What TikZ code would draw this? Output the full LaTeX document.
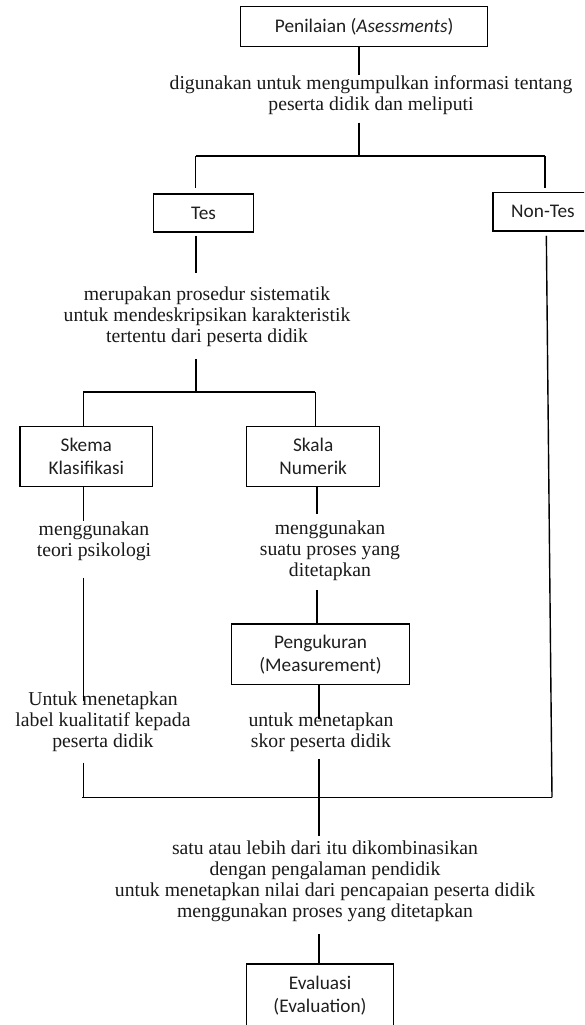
\documentclass[tikz,border=0pt]{standalone}
\usepackage{fontspec}
\setmainfont{Carlito}
\newfontfamily\serifx{Liberation Serif}
\usetikzlibrary{calc}
\begin{document}
\begin{tikzpicture}[x=1pt,y=-1pt,line width=1.4pt,
  boxn/.style={draw, inner sep=0pt, align=center, text=black!88,
    font=\fontsize{19.3}{23}\selectfont},
  lbl/.style={inner sep=0pt, align=center, text=black!90,
    font=\serifx\fontsize{19.7}{21}\selectfont}]
\useasboundingbox (0,0) rectangle (584,1025);
\clip (0,0) rectangle (584,1025);

% boxes
\node[boxn, minimum width=247pt, minimum height=40pt] (pen) at (364.2,26.7) {Penilaian (\textit{Asessments})};
\node[boxn, minimum width=99.6pt, minimum height=38pt] (tes) at (203.5,213) {Tes};
\node[boxn, minimum width=100pt, minimum height=38.7pt] (nontes) at (543,211.7) {Non-Tes};
\node[boxn, minimum width=132.7pt, minimum height=60pt] (skema) at (86.3,456.7) {Skema\\Klasifikasi};
\node[boxn, minimum width=133pt, minimum height=60pt] (skala) at (313.2,456.7) {Skala\\Numerik};
\node[boxn, minimum width=177.6pt, minimum height=60.3pt] (peng) at (320.5,654.2) {Pengukuran\\(Measurement)};
\node[boxn, minimum width=146.6pt, minimum height=64pt] (eval) at (320,996) {Evaluasi\\(Evaluation)};

% texts
\node[lbl] (t1) at (371,95) {digunakan untuk mengumpulkan informasi tentang\\peserta didik dan meliputi};
\node[lbl] (t2) at (207,317.2) {merupakan prosedur sistematik\\untuk mendeskripsikan karakteristik\\tertentu dari peserta didik};
\node[lbl] (t3) at (94,541) {menggunakan\\teori psikologi};
\node[lbl] (t4) at (330,550.8) {menggunakan\\suatu proses yang\\ditetapkan};
\node[lbl] (t5) at (103,721.7) {Untuk menetapkan\\label kualitatif kepada\\peserta didik};
\node[lbl] (t6) at (321,732.5) {untuk menetapkan\\skor peserta didik};
\node[lbl] (t7) at (325,881.5) {satu atau lebih dari itu dikombinasikan\\dengan pengalaman pendidik\\untuk menetapkan nilai dari pencapaian peserta didik\\menggunakan proses yang ditetapkan};

% junctions
\coordinate (jT) at (359,156);
\coordinate (jTL) at (195.7,156);
\coordinate (jTR) at (545,156);
\coordinate (jM) at (196,392);
\coordinate (jML) at (83.3,392);
\coordinate (jMR) at (315.3,392);
\coordinate (xSk) at (317,0);
\coordinate (xPg) at (319,0);
\coordinate (jBL) at (82,797.3);
\coordinate (jB) at (319,797.3);
\coordinate (jBR) at (552,797.3);
\coordinate (xNT) at (546.3,0);

% connectors
\draw (pen.south -| jT) -- (t1.north -| jT);
\draw[shorten <=7.5pt] (t1.south -| jT) -- (jT);
\draw (jTL) -- (jTR);
\draw[shorten >=5pt] (jTL) -- (tes.north -| jTL);
\draw[shorten >=4pt] (jTR) -- (nontes.north -| jTR);
\draw[shorten <=3pt, shorten >=14pt] (tes.south -| jM) -- (t2.north -| jM);
\draw[shorten <=11pt] (t2.south -| jM) -- (jM);
\draw (jML) -- (jMR);
\draw (jML) -- (skema.north -| jML);
\draw (jMR) -- (skala.north -| jMR);
\draw (skema.south -| jML) -- (t3.north -| jML);
\draw[shorten <=16.5pt, shorten >=-10pt] (t3.south -| jML) -- (t5.north -| jML);
\draw[shorten <=10.3pt] (t5.south -| jML) -- (jML |- jBL);
\draw[shorten >=5.7pt] (skala.south -| xSk) -- (t4.north -| xSk);
\draw[shorten <=8.5pt] (t4.south -| xSk) -- (peng.north -| xSk);
\draw[shorten >=-7pt] (peng.south -| xPg) -- (t6.north -| xPg);
\draw[shorten <=6.3pt] (t6.south -| xPg) -- (jB);
\draw[shorten >=4.2pt] (jB) -- (t7.north -| jB);
\draw[shorten <=11.6pt] (t7.south -| jB) -- (eval.north -| jB);
\draw (jBL) -- (jBR);
\draw[shorten <=4pt] (nontes.south -| xNT) -- (jBR);
\end{tikzpicture}
\end{document}
